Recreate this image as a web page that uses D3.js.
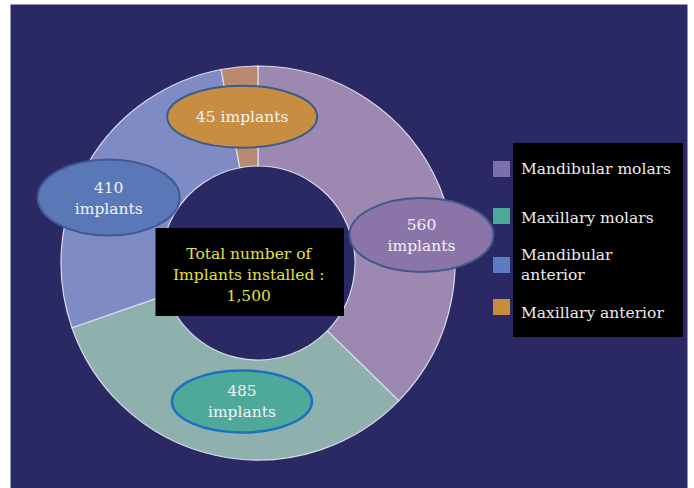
<!DOCTYPE html>
<html>
<head>
<meta charset="utf-8">
<script src="https://cdn.jsdelivr.net/npm/d3@7"></script>
<style>
  html, body { margin: 0; padding: 0; background: #ffffff; }
  svg { display: block; }
</style>
</head>
<body>
<svg id="chart" width="694" height="488"></svg>
<script>
// Implant sites
const categories = ["Mandibular molars", "Maxillary molars", "Mandibular anterior", "Maxillary anterior"];
const implantCounts = [560, 485, 410, 45];
const legendLines = [["Mandibular molars"], ["Maxillary molars"], ["Mandibular", "anterior"], ["Maxillary anterior"]];
const totalLines = ["Total number of", "Implants installed :", "1,500"];

const sliceColors = ["#9c88b1", "#8eb1ad", "#7f8bc4", "#b98a6f"];
const badgeColors = ["#8a74a8", "#4fa99a", "#5a78b8", "#c78e41"];
const badgeStrokes = ["#3f5a8c", "#1b70c2", "#3f5a94", "#3e5a8a"];
const swatchColors = ["#7d6fa9", "#4aa999", "#5a7cc1", "#c98d3c"];
// nudges of each value badge from its slice centroid, with ellipse radii
const badgeShift = [[28, 29], [16, -5], [-22, 8], [-2, 0]];
const badgeRadii = [[72, 37], [70, 31], [71, 38], [75, 31]];

const svg = d3.select("#chart");
const serif = "'DejaVu Serif', 'Liberation Serif', serif";
const fs = 15.5;

svg.append("rect").attr("x", 10.5).attr("y", 4.5).attr("width", 677).attr("height", 484)
  .attr("fill", "#2b2964");

const cx = 258, cy = 263, rOuter = 197, rInner = 97;
const g = svg.append("g").attr("transform", `translate(${cx},${cy})`);

const pie = d3.pie().sort(null).value(d => d.v);
const data = pie(categories.map((c, i) => ({ c, v: implantCounts[i], i })));
const arc = d3.arc().innerRadius(rInner).outerRadius(rOuter);

g.selectAll("path.slice").data(data).join("path")
  .attr("class", "slice")
  .attr("d", arc)
  .attr("fill", d => sliceColors[d.data.i])
  .attr("stroke", "#dcdcee")
  .attr("stroke-width", 1.2);

// total box in the hole
const box = { x: 155.5 - cx, y: 228 - cy, w: 188.5, h: 88 };
g.append("rect").attr("x", box.x).attr("y", box.y).attr("width", box.w).attr("height", box.h)
  .attr("fill", "#000000");
g.append("text")
  .attr("font-family", serif).attr("font-size", fs).attr("fill", "#e2e23c")
  .attr("text-anchor", "middle")
  .selectAll("tspan").data(totalLines).join("tspan")
  .attr("x", box.x + box.w / 2 - 1)
  .attr("y", (d, i) => box.y + 31 + i * 21)
  .text(d => d);

// value badges
const badges = g.selectAll("g.badge").data(data).join("g")
  .attr("class", "badge")
  .attr("transform", d => {
    const [x, y] = arc.centroid(d);
    const s = badgeShift[d.data.i];
    return `translate(${x + s[0]},${y + s[1]})`;
  });
badges.append("ellipse")
  .attr("rx", d => badgeRadii[d.data.i][0])
  .attr("ry", d => badgeRadii[d.data.i][1])
  .attr("fill", d => badgeColors[d.data.i])
  .attr("stroke", d => badgeStrokes[d.data.i])
  .attr("stroke-width", d => d.data.i === 1 ? 2.5 : 2);
badges.append("text")
  .attr("font-family", serif).attr("font-size", fs).attr("fill", "#f2f2f2")
  .attr("text-anchor", "middle")
  .selectAll("tspan")
  .data(d => d.data.v < 100 ? [`${d.data.v} implants`] : [`${d.data.v}`, "implants"])
  .join("tspan")
  .attr("x", 0)
  .attr("y", (t, i, n) => n.length === 1 ? 5 : -5 + i * 21)
  .text(t => t);

// legend
svg.append("rect").attr("x", 513).attr("y", 143).attr("width", 170).attr("height", 194)
  .attr("fill", "#000000");
const swatchY = [161, 208, 257, 299];
const textY = [174, 223, 260, 318];
const leg = svg.selectAll("g.leg").data(categories).join("g")
  .attr("class", "leg");
leg.append("rect").attr("x", 493).attr("y", (d, i) => swatchY[i])
  .attr("width", 17).attr("height", 16)
  .attr("fill", (d, i) => swatchColors[i]);
leg.append("text")
  .attr("font-family", serif).attr("font-size", fs).attr("fill", "#ececec")
  .selectAll("tspan").data((d, i) => legendLines[i].map(t => ({ t, i }))).join("tspan")
  .attr("x", 521)
  .attr("y", (d, j) => textY[d.i] + j * 20)
  .text(d => d.t);
</script>
</body>
</html>
